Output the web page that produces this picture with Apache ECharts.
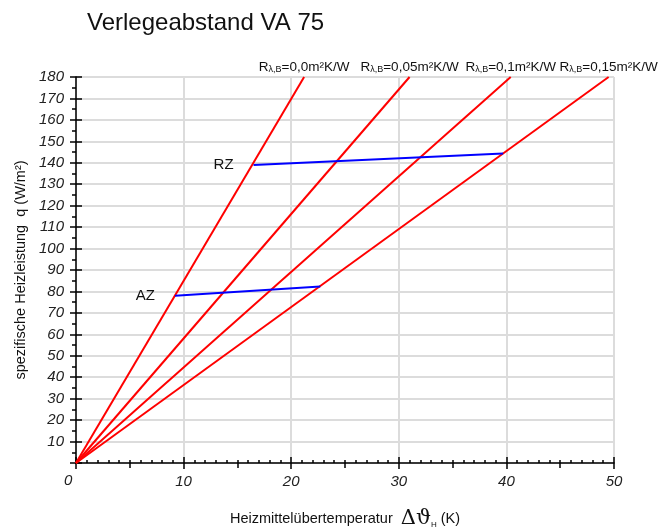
<!DOCTYPE html>
<html><head><meta charset="utf-8">
<script src="https://cdn.jsdelivr.net/npm/echarts@6/dist/echarts.min.js"></script>
<style>html,body{margin:0;padding:0;background:#fff}#c{width:666px;height:527px}</style>
</head><body><div id="c"></div>
<script>
// Data
const resistanceLabels = ['0,0', '0,05', '0,1', '0,15'];
const redLineEnds = [[21.2, 180], [31.0, 180], [40.4, 180], [49.5, 180]];
const azLine = [[9.2, 78], [22.7, 82.3]];
const rzLine = [[16.5, 139], [39.7, 144.3]];
const xTicks = [0, 10, 20, 30, 40, 50];
const yTicks = [0, 10, 20, 30, 40, 50, 60, 70, 80, 90, 100, 110, 120, 130, 140, 150, 160, 170, 180];

const FONT = 'Liberation Sans';
const chart = echarts.init(document.getElementById('c'));

const labelRich = {
  r: { fontSize: 13.5, fontFamily: FONT, color: '#111' },
  s: { fontSize: 9, fontFamily: FONT, color: '#111', verticalAlign: 'bottom', padding: [4, 0, 0, 0] }
};

const series = [];
redLineEnds.forEach((end, i) => {
  series.push({
    type: 'line', xAxisIndex: 0, yAxisIndex: 0, symbol: 'none',
    lineStyle: { color: '#ff0000', width: 2 },
    data: [[0, 0], end],
    markPoint: {
      symbol: 'circle', symbolSize: 0,
      data: [{ coord: end, value: resistanceLabels[i] }],
      label: {
        show: true, position: 'top', distance: 3,
        formatter: '{r|R}{s|λ,B}{r|=' + resistanceLabels[i] + 'm²K/W}',
        rich: labelRich
      }
    },
    silent: true, animation: false, z: 3
  });
});
[[azLine, 'AZ'], [rzLine, 'RZ']].forEach(([d, name]) => {
  series.push({
    type: 'line', xAxisIndex: 0, yAxisIndex: 0, symbol: 'none',
    lineStyle: { color: '#0000ff', width: 2 },
    data: d,
    markPoint: {
      symbol: 'circle', symbolSize: 0,
      data: [{ coord: d[0], value: name }],
      label: { show: true, position: 'left', distance: 20, formatter: name, fontSize: 15, fontFamily: FONT, color: '#111' }
    },
    silent: true, animation: false, z: 4
  });
});

const xLabelStyle = { fontStyle: 'italic', fontSize: 15, fontFamily: FONT, color: '#222', margin: 11, formatter: v => v === 0 ? '' : v };
const yLabelStyle = { fontStyle: 'italic', fontSize: 15, fontFamily: FONT, color: '#222', margin: 12, formatter: v => v === 0 ? '' : v };
const axLine = { show: true, lineStyle: { color: '#000', width: 1.5 } };

chart.setOption({
  animation: false,
  title: { text: 'Verlegeabstand VA 75', left: 82, top: 6, textStyle: { fontSize: 24, fontWeight: 'normal', fontFamily: FONT, color: '#111' } },
  grid: { left: 76, right: 52, top: 77, bottom: 64, containLabel: false, outerBoundsMode: 'none' },
  xAxis: [
    { type: 'value', min: xTicks[0], max: xTicks[xTicks.length - 1], interval: 10, position: 'bottom',
      axisLine: axLine, axisTick: { show: true, length: 6, lineStyle: { color: '#000', width: 1.5 } },
      axisLabel: xLabelStyle,
      splitLine: { show: true, lineStyle: { color: '#dcdcdc', width: 2 } },
      name: '{t|Heizmittelübertemperatur  }{d|Δϑ}{h|H}{t| (K)}', nameLocation: 'middle', nameGap: 45,
      nameTextStyle: { rich: {
        t: { fontSize: 14.5, fontFamily: FONT, color: '#111' },
        d: { fontSize: 21, fontFamily: 'DejaVu Serif', color: '#111' },
        h: { fontSize: 8, fontFamily: FONT, color: '#111', verticalAlign: 'bottom', padding: [6, 0, 0, 0] }
      } } },
    { type: 'value', min: 0, max: 50, interval: 10, position: 'bottom',
      axisLine: { show: false }, axisTick: { show: true, inside: true, length: 6, lineStyle: { color: '#000', width: 1.5 } },
      minorTick: { show: true, splitNumber: 10, length: 3, lineStyle: { color: '#000', width: 1.5 } },
      axisLabel: { show: false }, splitLine: { show: false } },
    { type: 'value', min: 0, max: 50, interval: 5, position: 'bottom',
      axisLine: { show: false }, axisTick: { show: true, length: 5, lineStyle: { color: '#000', width: 1.5 } },
      axisLabel: { show: false }, splitLine: { show: false } }
  ],
  yAxis: [
    { type: 'value', min: yTicks[0], max: yTicks[yTicks.length - 1], interval: 10, position: 'left',
      axisLine: axLine, axisTick: { show: true, length: 6, lineStyle: { color: '#000', width: 1.5 } },
      axisLabel: yLabelStyle,
      splitLine: { show: true, lineStyle: { color: '#dcdcdc', width: 2 } },
      name: 'spezifische Heizleistung  q (W/m²)', nameLocation: 'middle', nameGap: 45, nameRotate: 90,
      nameTextStyle: { fontSize: 14.5, fontFamily: FONT, color: '#111' } },
    { type: 'value', min: 0, max: 180, interval: 10, position: 'left',
      axisLine: { show: false }, axisTick: { show: true, inside: true, length: 6, lineStyle: { color: '#000', width: 1.5 } },
      axisLabel: { show: false }, splitLine: { show: false } },
    { type: 'value', min: 0, max: 180, interval: 5, position: 'left',
      axisLine: { show: false }, axisTick: { show: true, length: 4, lineStyle: { color: '#000', width: 1.5 } },
      axisLabel: { show: false }, splitLine: { show: false } }
  ],
  graphic: [{ type: 'text', left: 64, top: 473, style: { text: '0', fontStyle: 'italic', fontSize: 15, fontFamily: FONT, fill: '#222' } }],
  series: series
});
</script></body></html>
